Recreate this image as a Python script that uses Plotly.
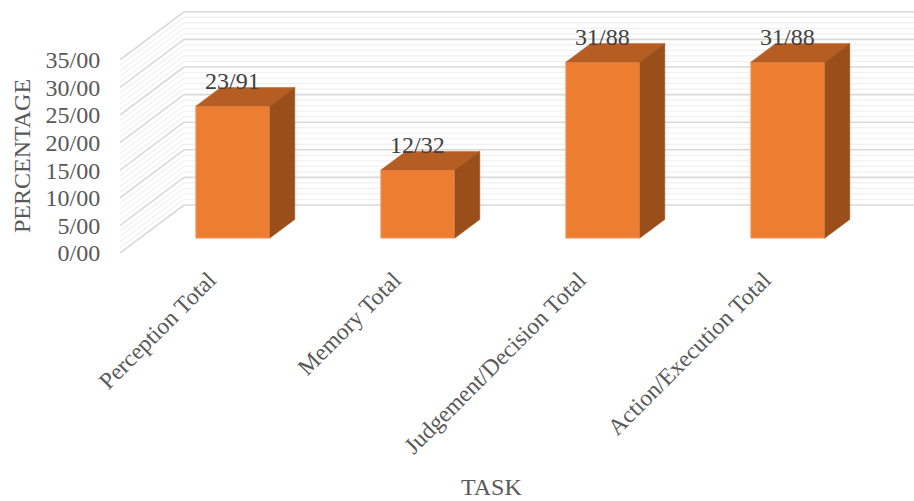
import plotly.graph_objects as go

categories = ["Perception Total", "Memory Total", "Judgement/Decision Total", "Action/Execution Total"]
values = [23.91, 12.32, 31.88, 31.88]
value_labels = ["23/91", "12/32", "31/88", "31/88"]
y_ticks = [0, 5, 10, 15, 20, 25, 30, 35]
y_ticklabels = ["0/00", "5/00", "10/00", "15/00", "20/00", "25/00", "30/00", "35/00"]

FONT = "Liberation Serif"
W, H = 914, 501
L, T, B = 120, 10, 253          # plot box in pixels
PX_Y = 5.52                     # pixels per value unit
PX_X = 185.0                    # pixels per category
X0 = 209.0                      # pixel of the first category tick
BAR_SHIFT = 4 / PX_X            # bars sit slightly right of the tick
BAR_W = 74 / PX_X

DX_WALL = 64 / PX_X             # oblique depth offset, front plane to back wall
DY_WALL = 48 / PX_Y
D_FRONT, D_BACK = 0.31, 0.70    # bar depth range as share of floor depth


def proj(x, v, d):
    return x + d * DX_WALL, v + d * DY_WALL


x_min = (L - X0) / PX_X
x_max = (W - X0) / PX_X
y_max = (B - T) / PX_Y

shapes = []
for v in range(0, 36):
    major = v % 5 == 0
    style = dict(color="#d9d9d9" if major else "#f0f0f0", width=1.6 if major else 1.2)
    x_a, y_a = proj(x_min, v, 0)
    x_b, y_b = proj(x_min, v, 1)
    shapes.append(dict(type="line", layer="below", xref="x", yref="y",
                       x0=x_a, y0=y_a, x1=x_b, y1=y_b, line=style))
    shapes.append(dict(type="line", layer="below", xref="x", yref="y",
                       x0=x_b, y0=y_b, x1=x_max, y1=y_b, line=style))

fig = go.Figure()

positions = list(range(len(categories)))
fx, base = proj(BAR_SHIFT, 0, D_FRONT)

fig.add_trace(go.Bar(
    x=[p + fx for p in positions], y=values, base=base, width=BAR_W,
    marker=dict(color="#ED7D31", line=dict(color="#F2A16E", width=1)),
    showlegend=False, hoverinfo="skip",
))

for p, v in zip(positions, values):
    a, b = p + BAR_SHIFT - BAR_W / 2, p + BAR_SHIFT + BAR_W / 2
    top = [proj(a, v, D_FRONT), proj(b, v, D_FRONT), proj(b, v, D_BACK), proj(a, v, D_BACK), proj(a, v, D_FRONT)]
    side = [proj(b, 0, D_FRONT), proj(b, v, D_FRONT), proj(b, v, D_BACK), proj(b, 0, D_BACK), proj(b, 0, D_FRONT)]
    for face, col in ((top, "#B55D22"), (side, "#9A4F1B")):
        fig.add_trace(go.Scatter(
            x=[c[0] for c in face], y=[c[1] for c in face], mode="lines",
            fill="toself", fillcolor=col, line=dict(color=col, width=0.5),
            showlegend=False, hoverinfo="skip",
        ))

annotations = [
    dict(x=p + fx, y=v + base, xref="x", yref="y", text=t, showarrow=False, yshift=25,
         font=dict(family=FONT, size=24, color="#404040"))
    for p, v, t in zip(positions, values, value_labels)
]
title_font = dict(family=FONT, size=24, color="#595959")
annotations.append(dict(x=(22 - L) / (W - L), y=(B - 156) / (B - T), xref="paper", yref="paper",
                        xanchor="center", yanchor="middle", text="PERCENTAGE", textangle=-90,
                        showarrow=False, font=title_font))
annotations.append(dict(x=(491 - L) / (W - L), y=(B - 487) / (B - T), xref="paper", yref="paper",
                        xanchor="center", yanchor="middle", text="TASK",
                        showarrow=False, font=title_font))

fig.update_layout(
    width=W, height=H, autosize=False,
    margin=dict(l=L, r=0, t=T, b=H - B, pad=0),
    paper_bgcolor="white", plot_bgcolor="white",
    shapes=shapes, annotations=annotations, showlegend=False,
    xaxis=dict(range=[x_min, x_max], tickmode="array", tickvals=positions, ticktext=categories,
               tickangle=-45, showgrid=False, zeroline=False, showline=False,
               ticks="outside", ticklen=3, tickcolor="rgba(0,0,0,0)", automargin=False,
               tickfont=dict(family=FONT, size=23.5, color="#595959")),
    yaxis=dict(range=[0, y_max], tickmode="array", tickvals=y_ticks, ticktext=y_ticklabels,
               showgrid=False, zeroline=False, showline=False,
               ticks="outside", ticklen=14, tickcolor="rgba(0,0,0,0)", automargin=False,
               tickfont=dict(family=FONT, size=24, color="#595959")),
)

fig.write_html("out.html", config=dict(displayModeBar=False),
               post_script="document.body.style.margin='0';document.documentElement.style.overflow='hidden';")
